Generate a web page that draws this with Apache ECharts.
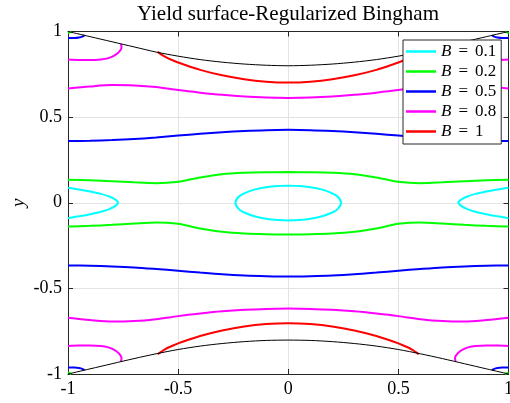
<!DOCTYPE html>
<html><head><meta charset="utf-8">
<script src="https://cdn.jsdelivr.net/npm/echarts@6/dist/echarts.min.js"></script>
<style>html,body{margin:0;padding:0;background:#fff}#c{width:510px;height:403px}</style>
</head><body><div id="c"></div>
<script>
// ---- data ----
const titleText = 'Yield surface-Regularized Bingham';
const legendNames = ['B = 0.1', 'B = 0.2', 'B = 0.5', 'B = 0.8', 'B = 1'];
const xTicks = [-1, -0.5, 0, 0.5, 1];
const yTicks = [-1, -0.5, 0, 0.5, 1];

const X21 = [-1,-0.9,-0.8,-0.7,-0.6,-0.5,-0.4,-0.3,-0.2,-0.1,0,0.1,0.2,0.3,0.4,0.5,0.6,0.7,0.8,0.9,1];

// B = 0.1 (cyan)
const cyanCenterX = [0,0.05,0.1,0.15,0.2,0.225,0.24,0.225,0.2,0.15,0.1,0.05,0,-0.05,-0.1,-0.15,-0.2,-0.225,-0.24,-0.225,-0.2,-0.15,-0.1,-0.05,0];
const cyanCenterY = [0.1,0.098,0.091,0.078,0.055,0.035,0,-0.036,-0.057,-0.08,-0.094,-0.101,-0.103,-0.101,-0.094,-0.08,-0.057,-0.036,0,0.035,0.055,0.078,0.091,0.098,0.1];
const cyanLeftX  = [-1,-0.95,-0.9,-0.85,-0.81,-0.785,-0.772,-0.785,-0.81,-0.85,-0.9,-0.95,-1];
const cyanLeftY  = [0.088,0.078,0.066,0.052,0.035,0.018,0,-0.018,-0.036,-0.053,-0.067,-0.079,-0.09];
const cyanRightX = [1,0.95,0.9,0.85,0.81,0.785,0.772,0.785,0.81,0.85,0.9,0.95,1];
const cyanRightY = [0.088,0.078,0.066,0.052,0.035,0.018,0,-0.018,-0.036,-0.053,-0.067,-0.079,-0.09];

// B = 0.2 (green)
const greenTopY = [0.134,0.131,0.126,0.119,0.114,0.122,0.148,0.167,0.175,0.178,0.179,0.178,0.175,0.167,0.148,0.122,0.114,0.119,0.126,0.131,0.134];
const greenBotY = [-0.139,-0.135,-0.129,-0.121,-0.115,-0.123,-0.15,-0.17,-0.18,-0.184,-0.185,-0.184,-0.18,-0.17,-0.15,-0.123,-0.115,-0.121,-0.129,-0.135,-0.139];
const greenTLX = [-1,-0.985]; const greenTLY = [0.99,1];
const greenTRX = [1,0.985];   const greenTRY = [0.99,1];
const greenBLX = [-1,-0.985]; const greenBLY = [-0.99,-1];
const greenBRX = [1,0.985];   const greenBRY = [-0.99,-1];

// B = 0.5 (blue)
const blueTopY = [0.36,0.362,0.366,0.372,0.381,0.392,0.403,0.412,0.419,0.424,0.426,0.424,0.419,0.412,0.403,0.392,0.381,0.372,0.366,0.362,0.36];
const blueBotY = [-0.366,-0.368,-0.372,-0.378,-0.387,-0.397,-0.408,-0.418,-0.425,-0.429,-0.431,-0.429,-0.425,-0.418,-0.408,-0.397,-0.387,-0.378,-0.372,-0.368,-0.366];
const blueTLX = [-1,-0.97,-0.95,-0.935,-0.925]; const blueTLY = [0.962,0.962,0.965,0.970,0.977];
const blueTRX = [1,0.97,0.95,0.935,0.925];      const blueTRY = [0.962,0.962,0.965,0.970,0.977];
const blueBLX = [-1,-0.97,-0.95,-0.935,-0.925]; const blueBLY = [-0.962,-0.962,-0.965,-0.970,-0.977];
const blueBRX = [1,0.97,0.95,0.935,0.925];      const blueBRY = [-0.962,-0.962,-0.965,-0.970,-0.977];

// B = 0.8 (magenta)
const magTopY = [0.667,0.679,0.687,0.685,0.676,0.658,0.643,0.63,0.62,0.614,0.612,0.614,0.62,0.63,0.643,0.658,0.676,0.685,0.687,0.679,0.667];
const magBotY = [-0.672,-0.685,-0.694,-0.691,-0.68,-0.662,-0.647,-0.634,-0.625,-0.62,-0.618,-0.62,-0.625,-0.634,-0.647,-0.662,-0.68,-0.691,-0.694,-0.685,-0.672];
const magTLX = [-1,-0.95,-0.9,-0.85,-0.82,-0.792,-0.772,-0.76,-0.757,-0.76]; const magTLY = [0.836,0.834,0.834,0.837,0.843,0.858,0.876,0.895,0.91,0.926];
const magTRX = [1,0.95,0.9,0.85,0.82,0.792,0.772,0.76,0.757,0.76];         const magTRY = [0.836,0.834,0.834,0.837,0.843,0.858,0.876,0.895,0.91,0.926];
const magBLX = [-1,-0.95,-0.9,-0.85,-0.82,-0.792,-0.772,-0.76,-0.757,-0.76]; const magBLY = [-0.836,-0.834,-0.834,-0.837,-0.843,-0.858,-0.876,-0.895,-0.91,-0.926];
const magBRX = [1,0.95,0.9,0.85,0.82,0.792,0.772,0.76,0.757,0.76];         const magBRY = [-0.836,-0.834,-0.834,-0.837,-0.843,-0.858,-0.876,-0.895,-0.91,-0.926];

// B = 1 (red)
const redX = [-0.593,-0.56,-0.52,-0.48,-0.4,-0.3,-0.2,-0.1,0,0.1,0.2,0.3,0.4,0.48,0.52,0.56,0.593];
const redTopY = [0.881,0.853,0.829,0.81,0.776,0.744,0.721,0.707,0.702,0.707,0.721,0.744,0.776,0.81,0.829,0.853,0.881];
const redBotY = [-0.885,-0.856,-0.832,-0.812,-0.778,-0.746,-0.722,-0.708,-0.703,-0.708,-0.722,-0.746,-0.778,-0.812,-0.832,-0.856,-0.885];

// boundary (black)
const blackTopY = [1,0.97,0.94,0.91,0.88,0.856,0.836,0.821,0.81,0.803,0.8,0.803,0.81,0.821,0.836,0.856,0.88,0.91,0.94,0.97,1];
const blackBotY = [-1,-0.97,-0.94,-0.91,-0.882,-0.857,-0.837,-0.822,-0.811,-0.804,-0.802,-0.804,-0.811,-0.822,-0.837,-0.857,-0.882,-0.91,-0.94,-0.97,-1];

// ---- build ----
const FONT = 'Liberation Serif';
const AX = '#262626';
const colors = {'B = 0.1':'#00FFFF','B = 0.2':'#00FF00','B = 0.5':'#0000FF','B = 0.8':'#FF00FF','B = 1':'#FF0000','boundary':'#000000'};
const curves = [
  ['boundary', X21, blackTopY, 1], ['boundary', X21, blackBotY, 1],
  ['B = 0.1', cyanCenterX, cyanCenterY], ['B = 0.1', cyanLeftX, cyanLeftY], ['B = 0.1', cyanRightX, cyanRightY],
  ['B = 0.2', X21, greenTopY], ['B = 0.2', X21, greenBotY],
  ['B = 0.2', greenTLX, greenTLY], ['B = 0.2', greenTRX, greenTRY], ['B = 0.2', greenBLX, greenBLY], ['B = 0.2', greenBRX, greenBRY],
  ['B = 0.5', X21, blueTopY], ['B = 0.5', X21, blueBotY],
  ['B = 0.5', blueTLX, blueTLY], ['B = 0.5', blueTRX, blueTRY], ['B = 0.5', blueBLX, blueBLY], ['B = 0.5', blueBRX, blueBRY],
  ['B = 0.8', X21, magTopY], ['B = 0.8', X21, magBotY],
  ['B = 0.8', magTLX, magTLY], ['B = 0.8', magTRX, magTRY], ['B = 0.8', magBLX, magBLY], ['B = 0.8', magBRX, magBRY],
  ['B = 1', redX, redTopY], ['B = 1', redX, redBotY]
];
const series = curves.map(c => ({
  type: 'line', name: c[0], data: c[1].map((v, i) => [v, c[2][i]]),
  symbol: 'none', showSymbol: false, smooth: 0.3, animation: false, silent: true,
  lineStyle: {color: colors[c[0]], width: c[3] || 2},
  itemStyle: {color: colors[c[0]]},
  z: c[0] === 'boundary' ? 3 : 2
}));

const axisCommon = (min, max) => ({
  type: 'value', min: min, max: max, interval: 0.5,
  axisLine: {show: true, onZero: false, lineStyle: {color: AX, width: 1}},
  axisTick: {show: true, inside: true, length: 5, lineStyle: {color: AX}},
});

const chart = echarts.init(document.getElementById('c'), null, {renderer: 'canvas'});
chart.setOption({
  animation: false,
  backgroundColor: '#fff',
  title: {text: titleText, left: 288, top: 4, padding: 0, textAlign: 'center',
    textStyle: {fontFamily: FONT, fontSize: 21, fontWeight: 'normal', color: '#000'}},
  grid: {left: 68, right: 1.5, top: 31.5, bottom: 29, containLabel: false, outerBoundsMode: 'none'},
  legend: {
    data: legendNames, orient: 'vertical', left: 403, top: 40,
    backgroundColor: '#fff', borderColor: AX, borderWidth: 1, borderRadius: 0,
    padding: [3, 5, 4, 3], itemWidth: 30, itemHeight: 2.5, itemGap: 3, icon: 'rect',
    textStyle: {fontFamily: FONT, fontSize: 17, color: '#000',
      rich: {
        i: {fontFamily: FONT, fontStyle: 'italic', fontSize: 17, color: '#000'},
        e: {fontFamily: FONT, fontSize: 17, color: '#000', padding: [0, 7, 0, 7]}
      }},
    formatter: n => n.replace('B = ', '{i|B}{e|=}')
  },
  xAxis: [
    Object.assign(axisCommon(xTicks[0], xTicks[xTicks.length-1]), {position: 'bottom',
      axisLabel: {fontFamily: FONT, fontSize: 18, color: '#000', margin: 6},
      splitLine: {show: true, lineStyle: {color: '#e3e3e3', width: 1}}}),
    Object.assign(axisCommon(xTicks[0], xTicks[xTicks.length-1]), {position: 'top',
      axisLabel: {show: false}, splitLine: {show: false}})
  ],
  yAxis: [
    Object.assign(axisCommon(yTicks[0], yTicks[yTicks.length-1]), {position: 'left',
      name: 'y', nameLocation: 'middle', nameGap: 40, nameRotate: 90, nameMoveOverlap: false,
      nameTextStyle: {fontFamily: FONT, fontStyle: 'italic', fontSize: 19, color: '#000'},
      axisLabel: {fontFamily: FONT, fontSize: 18, color: '#000', margin: 6},
      splitLine: {show: true, lineStyle: {color: '#e3e3e3', width: 1}}}),
    Object.assign(axisCommon(yTicks[0], yTicks[yTicks.length-1]), {position: 'right',
      axisLabel: {show: false}, splitLine: {show: false}})
  ],
  series: series
});
</script>
</body></html>
